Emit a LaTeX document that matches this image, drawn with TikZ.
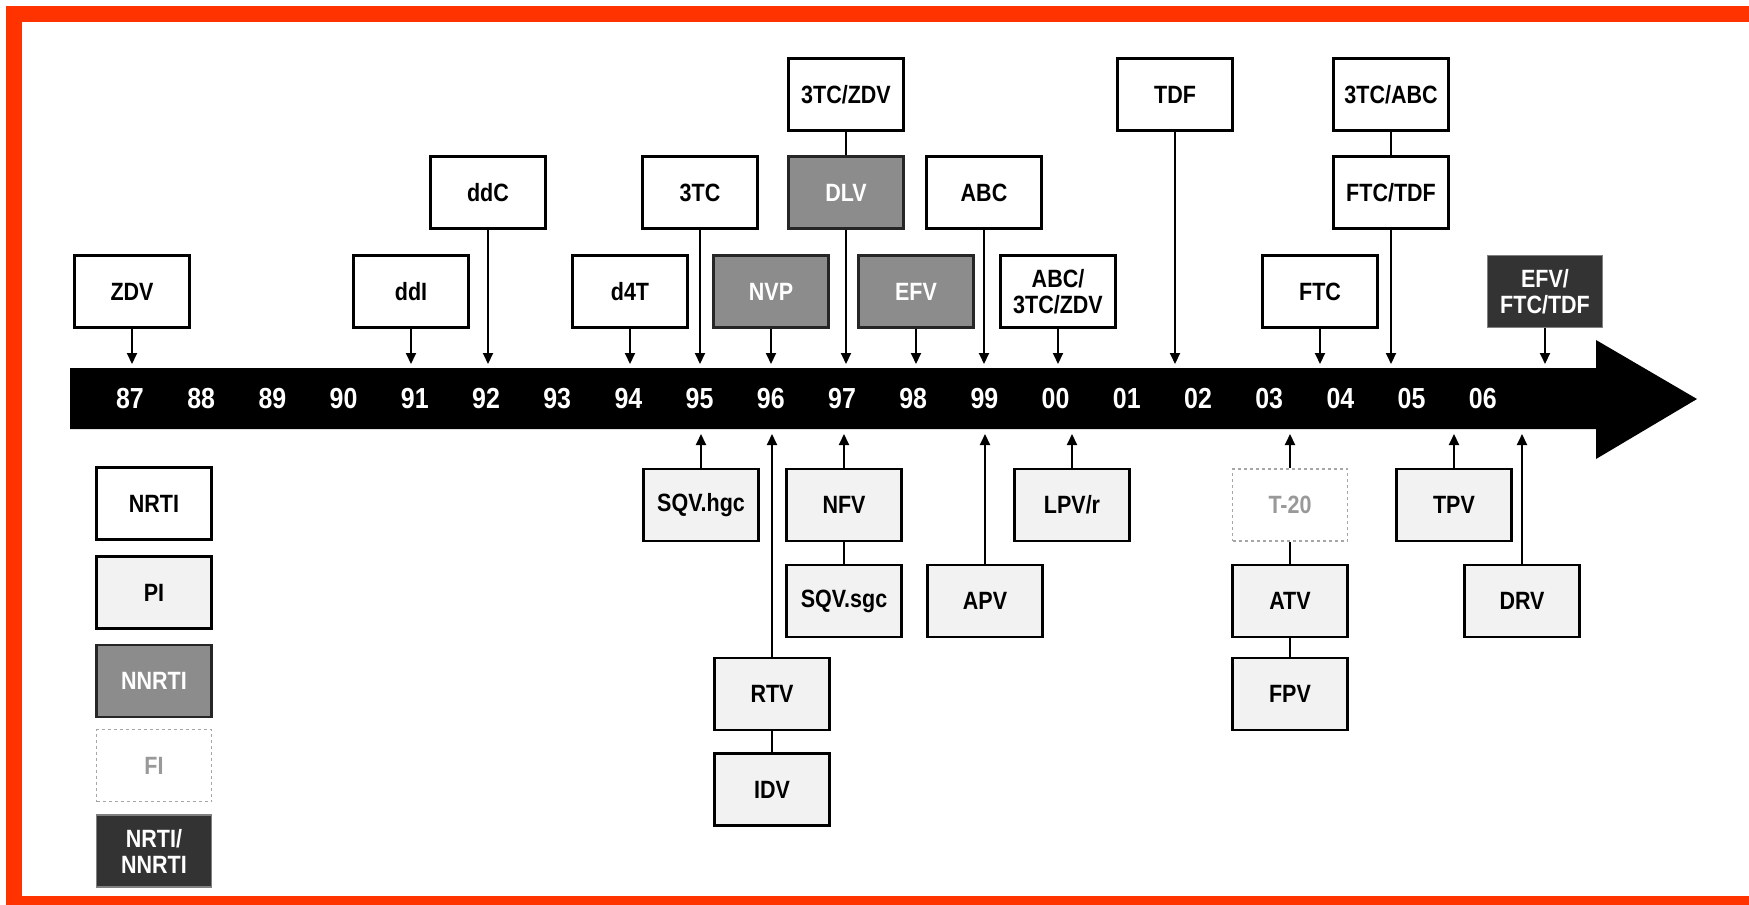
\documentclass[tikz,border=0pt]{standalone}
\usepackage{fontspec}
\setmainfont{Liberation Sans}[FakeStretch=0.86]
\usetikzlibrary{arrows.meta}
\definecolor{framered}{RGB}{255,51,0}
\newcommand\boxfont{\bfseries\fontsize{25}{26}\selectfont}
\newcommand\yearfont{\bfseries\fontsize{29}{29}\selectfont}
\begin{document}
\begin{tikzpicture}[x=1pt,y=-1pt,
  box/.style={draw=black, line width=2.2pt, minimum width=115pt, minimum height=72pt,
    inner sep=0pt, font=\boxfont, align=center},
  nrti/.style={box, fill=white},
  pinode/.style={box, fill=black!5},
  nnrti/.style={box, fill=black!45, draw=black!85, text=white},
  finode/.style={box, fill=white, draw=black!35, dashed, line width=1.6pt, text=black!40},
  combo/.style={box, fill=black!80, draw=black!50, line width=1.6pt, text=white},
  arr/.style={line width=2pt, -{Triangle[length=11pt,width=10pt]}},
  link/.style={line width=2pt},
  year/.style={text=white, font=\yearfont, inner sep=0pt}]
\useasboundingbox (0,0) rectangle (1749,905);
% frame
\fill[framered] (6,6) rectangle (1749,22);
\fill[framered] (6,6) rectangle (22,905);
\fill[framered] (6,896) rectangle (1749,905);
% timeline arrow
\fill[black] (70,368) -- (1596,368) -- (1596,340) -- (1697,399) -- (1596,459)
  -- (1596,429) -- (70,429) -- cycle;
\coordinate (bartop) at (0,364);
\coordinate (barbot) at (0,434);
% years
\foreach \y [count=\k from 0] in {87,88,89,90,91,92,93,94,95,96,97,98,99,00,01,02,03,04,05,06}
  \node[year] (y\k) at (130+71.2*\k,399) {\y};
% top boxes
\node[nrti] (zdv) at (132,291.5) {ZDV};
\node[nrti] (ddi) at (411,291.5) {ddI};
\node[nrti] (ddc) at (488,192.5) {ddC};
\node[nrti] (d4t) at (630,291.5) {d4T};
\node[nrti] (tc) at (700,192.5) {3TC};
\node[nnrti] (nvp) at (771,291.5) {NVP};
\node[nrti] (tczdv) at (846,94.5) {3TC/ZDV};
\node[nnrti] (dlv) at (846,192.5) {DLV};
\node[nnrti] (efv) at (916,291.5) {EFV};
\node[nrti] (abc) at (984,192.5) {ABC};
\node[nrti] (triz) at (1058,291.5) {ABC/\\3TC/ZDV};
\node[nrti] (tdf) at (1175,94.5) {TDF};
\node[nrti] (ftc) at (1320,291.5) {FTC};
\node[nrti] (tcabc) at (1391,94.5) {3TC/ABC};
\node[nrti] (ftctdf) at (1391,192.5) {FTC/TDF};
\node[combo] (atri) at (1545,291.5) {EFV/\\FTC/TDF};
% bottom boxes
\node[pinode] (sqvh) at (701,505) {SQV.hgc};
\node[pinode] (rtv) at (772,694) {RTV};
\node[pinode] (idv) at (772,789.5) {IDV};
\node[pinode] (nfv) at (844,505) {NFV};
\node[pinode] (sqvs) at (844,601) {SQV.sgc};
\node[pinode] (apv) at (985,601) {APV};
\node[pinode] (lpv) at (1072,505) {LPV/r};
\node[finode] (t20) at (1290,505) {T-20};
\node[pinode] (atv) at (1290,601) {ATV};
\node[pinode] (fpv) at (1290,694) {FPV};
\node[pinode] (tpv) at (1454,505) {TPV};
\node[pinode] (drv) at (1522,601) {DRV};
% legend
\node[nrti] (lnrti) at (154,503.5) {NRTI};
\node[pinode] (lpi) at (154,592.5) {PI};
\node[nnrti] (lnnrti) at (154,681) {NNRTI};
\node[finode] (lfi) at (154,765.5) {FI};
\node[combo] (lcombo) at (154,851) {NRTI/\\NNRTI};
% arrows down to the bar
\foreach \n in {zdv,ddi,ddc,d4t,tc,nvp,dlv,efv,abc,triz,tdf,ftc,ftctdf,atri}
  \draw[arr] (\n.south) -- (\n.south |- bartop);
% arrows up to the bar
\foreach \n in {sqvh,rtv,nfv,apv,lpv,t20,tpv,drv}
  \draw[arr] (\n.north) -- (\n.north |- barbot);
% links
\draw[link] (tczdv) -- (dlv);
\draw[link] (tcabc) -- (ftctdf);
\draw[link] (nfv) -- (sqvs);
\draw[link] (rtv) -- (idv);
\draw[link] (t20) -- (atv);
\draw[link] (atv) -- (fpv);
\end{tikzpicture}
\end{document}
